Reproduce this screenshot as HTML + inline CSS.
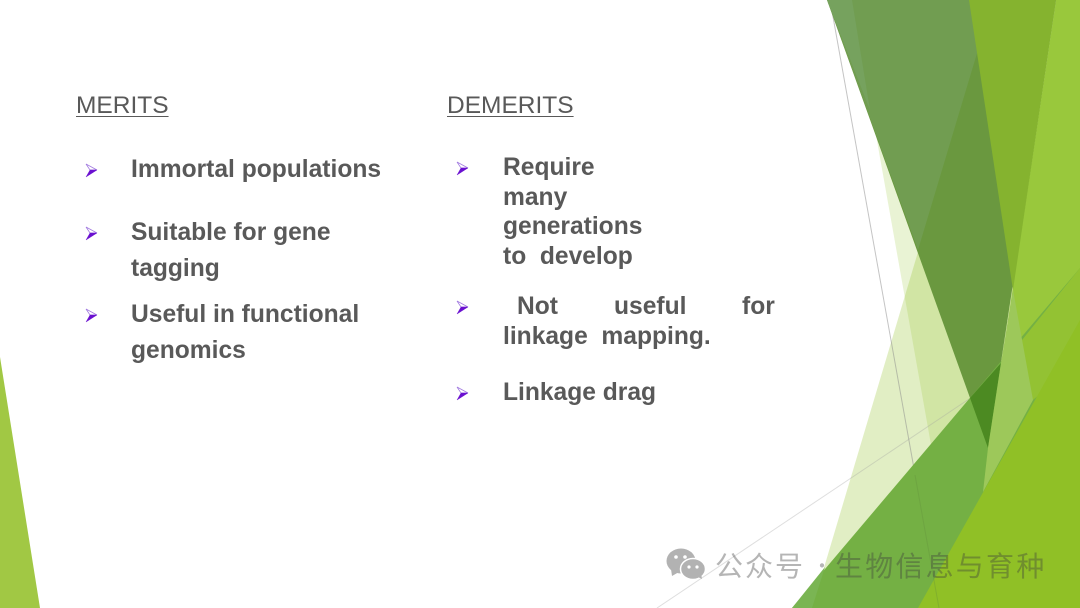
<!DOCTYPE html>
<html><head><meta charset="utf-8"><style>
html,body{margin:0;padding:0;background:#fff}
#p{position:relative;width:1080px;height:608px;overflow:hidden;background:#fff;font-family:"Liberation Sans",sans-serif;color:#595959}
svg{position:absolute;left:0;top:0}
.h{position:absolute;font-size:24.5px;line-height:28px;text-decoration:underline;text-decoration-thickness:1px;text-underline-offset:3px;white-space:nowrap}
.t{position:absolute;font-size:24.6px;line-height:28px;font-weight:bold;white-space:nowrap}
.w{position:absolute;top:548px;font-family:"Noto Sans CJK SC","Liberation Sans",sans-serif;font-size:28px;line-height:34px;letter-spacing:2px;color:rgba(60,60,60,.38);white-space:nowrap}
</style></head><body><div id="p">
<svg width="1080" height="608" viewBox="0 0 1080 608">
<polygon points="0,357 40,608 0,608" fill="#a1c844"/>
<polygon points="993,0 1066,608 812,608" fill="#90c226" fill-opacity=".27"/>
<polygon points="852,0 993,0 1066,608 960,608" fill="#90c226" fill-opacity=".2"/>
<line x1="830" y1="0" x2="939" y2="608" stroke="#8a8a8a" stroke-opacity=".5" stroke-width="1"/>
<line x1="657" y1="608" x2="972" y2="397" stroke="#a0a0a0" stroke-opacity=".35" stroke-width="1"/>
<polygon points="1056,0 1080,0 1080,608 965,608" fill="#99c83c"/>
<polygon points="827,0 1056,0 988,448" fill="#6a983f"/>
<polygon points="827,0 993,0 918,250" fill="#719d51"/>
<polygon points="827,0 852,0 870,110" fill="#76a25e"/>
<polygon points="969,0 1056,0 1013,290" fill="#85b32f"/>
<polygon points="1080,268 1080,608 792,608" fill="#74b044"/>
<polygon points="792,608 812,608 825,567" fill="#7ab553"/>
<polygon points="970,398 1001,363 988,448" fill="#4c8a22"/>
<polygon points="1080,268 1080,360 1033,400 1010,355" fill="#93c233"/>
<polygon points="988,448 1001,363 1013,290 1033,400 983,492" fill="#9dc85a"/>
<polygon points="1080,320 1080,608 918,608" fill="#90c026"/>
<line x1="915" y1="475" x2="939" y2="608" stroke="#5f8a3a" stroke-opacity=".3" stroke-width="1"/>
<g fill="#6a10d0" stroke="#6a10d0" stroke-width=".4">
<g><path d="M86 164 L97 170 L90 170 Z" fill="#fff" stroke="#a27be0" stroke-width=".8"/><path d="M97 170 L90 170 L86 177 Z"/></g>
<g><path d="M86 227 L97 233 L90 233 Z" fill="#fff" stroke="#a27be0" stroke-width=".8"/><path d="M97 233 L90 233 L86 240 Z"/></g>
<g><path d="M86 309 L97 315 L90 315 Z" fill="#fff" stroke="#a27be0" stroke-width=".8"/><path d="M97 315 L90 315 L86 322 Z"/></g>
<g><path d="M457 162 L468 168 L461 168 Z" fill="#fff" stroke="#a27be0" stroke-width=".8"/><path d="M468 168 L461 168 L457 175 Z"/></g>
<g><path d="M457 301 L468 307 L461 307 Z" fill="#fff" stroke="#a27be0" stroke-width=".8"/><path d="M468 307 L461 307 L457 314 Z"/></g>
<g><path d="M457 387 L468 393 L461 393 Z" fill="#fff" stroke="#a27be0" stroke-width=".8"/><path d="M468 393 L461 393 L457 400 Z"/></g>
</g>
<g fill="#b2b2b2">
<ellipse cx="681" cy="561" rx="14.5" ry="12.5"/>
<path d="M671 569 L672 576 L679 572 Z"/>
<ellipse cx="693" cy="569" rx="12.5" ry="10.5" stroke="#fff" stroke-width="1.5"/>
<path d="M698 577 L702 579 L701 573 Z"/>
</g>
<g fill="#fff"><circle cx="676" cy="557" r="1.8"/><circle cx="685" cy="557" r="1.8"/><circle cx="689" cy="567" r="1.6"/><circle cx="697" cy="567" r="1.6"/></g>
</svg>
<div class="h" style="left:76px;top:91.5px">MERITS</div>
<div class="h" style="left:447px;top:91.5px">DEMERITS</div>
<div class="t" style="left:131px;top:156px">Immortal populations</div>
<div class="t" style="left:131px;top:219px">Suitable for gene</div>
<div class="t" style="left:131px;top:255px">tagging</div>
<div class="t" style="left:131px;top:301px">Useful in functional</div>
<div class="t" style="left:131px;top:337px">genomics</div>
<div class="t" style="left:503px;top:154px">Require</div>
<div class="t" style="left:503px;top:184px">many</div>
<div class="t" style="left:503px;top:213px">generations</div>
<div class="t" style="left:503px;top:243px">to&nbsp; develop</div>
<div class="t" style="left:517px;top:293px">Not</div>
<div class="t" style="left:614px;top:293px">useful</div>
<div class="t" style="left:742px;top:293px">for</div>
<div class="t" style="left:503px;top:323px">linkage&nbsp; mapping.</div>
<div class="t" style="left:503px;top:379px">Linkage drag</div>
<div class="w" style="left:715px">公众号</div>
<div class="w" style="left:812px;font-size:20px">·</div>
<div class="w" style="left:835px;letter-spacing:2.2px">生物信息与育种</div>
</div></body></html>
